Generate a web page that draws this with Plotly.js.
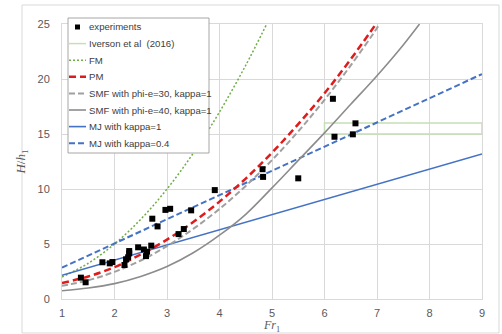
<!DOCTYPE html>
<html><head><meta charset="utf-8">
<script src="https://cdn.plot.ly/plotly-3.0.1.min.js"></script>
<style>html,body{margin:0;padding:0;background:#fff;}#chart{width:502px;height:334px;}</style>
</head><body><div id="chart"></div>
<script>
// ---- data ----
const expFr = [1.36,1.45,1.77,1.91,1.96,2.19,2.22,2.26,2.28,2.28,2.45,2.56,2.60,2.62,2.70,2.72,2.82,2.97,3.06,3.22,3.32,3.46,3.91,4.82,4.83,5.50,6.16,6.19,6.54,6.59];
const expH  = [1.94,1.52,3.34,3.24,3.36,3.09,3.60,3.79,4.15,4.36,4.70,4.50,3.90,4.30,4.85,7.30,6.60,8.10,8.20,5.90,6.36,8.06,9.90,11.80,11.10,10.97,18.20,14.75,14.97,15.97];

const iversonFr = [6, 9];
const iversonH  = [15, 16];

const fmFr = [1,1.5,2,2.5,3,3.5,4,4.5,4.9];
const fmH  = [2,3.25,5,7.25,10,13.25,17,21.25,25];

const pmFr = [1,1.5,2,2.5,3,3.5,4,4.5,5,5.5,6,6.5,6.98];
const pmH  = [1.45,2.05,2.9,4.05,5.4,7.0,8.85,10.95,13.3,15.9,18.7,21.8,25];

const smf30Fr = [1,1.5,2,2.5,3,3.5,4,4.5,5,5.5,6,6.5,7,7.04];
const smf30H  = [1.2,1.7,2.47,3.5,4.81,6.37,8.19,10.28,12.63,15.24,18.11,21.24,24.64,25];

const smf40Fr = [1,1.5,2,2.5,3,3.5,4,4.5,5,5.5,6,6.5,7,7.5,7.81];
const smf40H  = [0.75,1.0,1.4,2.05,2.95,4.2,5.8,7.7,10.1,12.6,15.1,17.7,20.3,23.1,25];

const mj1Fr = [1,2,3,4,5,6,7,8,9];
const mj1H  = [2.15,3.53,4.91,6.29,7.67,9.05,10.43,11.81,13.19];

const mj04Fr = [1,2,3,4,5,6,7,8,9];
const mj04H  = [2.85,5.05,7.25,9.45,11.65,13.85,16.05,18.25,20.45];

const seriesNames = ['experiments','Iverson et al  (2016)','FM','PM','SMF with phi-e=30, kappa=1','SMF with phi-e=40, kappa=1','MJ with kappa=1','MJ with kappa=0.4'];

const xTicks = [1,2,3,4,5,6,7,8,9];
const yTicks = [0,5,10,15,20,25];

// ---- styles ----
const styles = [
  {kind:'marker', color:'#000000'},
  {kind:'line', color:'#c5e0b4', width:1.5, dash:'solid'},
  {kind:'line', color:'#70ad47', width:1.5, dash:'2px,2px'},
  {kind:'line', color:'#e01b1b', width:2.5, dash:'7px,4px'},
  {kind:'line', color:'#a0a0a0', width:2, dash:'6px,3px'},
  {kind:'line', color:'#8c8c8c', width:1.6, dash:'solid'},
  {kind:'line', color:'#4472c4', width:1.6, dash:'solid'},
  {kind:'line', color:'#4472c4', width:2, dash:'6px,3px'}
];

const ivX = [iversonFr[0], iversonFr[1], iversonFr[1], iversonFr[0], iversonFr[0]];
const ivY = [iversonH[0], iversonH[0], iversonH[1], iversonH[1], iversonH[0]];

function lineTrace(x, y, i, shape){
  return {x:x, y:y, mode:'lines', name:seriesNames[i], showlegend:false, hoverinfo:'skip',
    line:{color:styles[i].color, width:styles[i].width, dash:styles[i].dash, shape:shape||'spline'}};
}

const traces = [
  lineTrace(ivX, ivY, 1, 'linear'),
  lineTrace(fmFr, fmH, 2),
  lineTrace(mj1Fr, mj1H, 6, 'linear'),
  lineTrace(mj04Fr, mj04H, 7, 'linear'),
  lineTrace(smf40Fr, smf40H, 5),
  lineTrace(smf30Fr, smf30H, 4),
  lineTrace(pmFr, pmH, 3),
  {x:expFr, y:expH, mode:'markers', name:seriesNames[0], showlegend:false,
   marker:{symbol:'square', size:6, color:'#000000'}}
];

// plot-area geometry (pixels) for placing the legend / frame in paper coordinates
const W = 502, H = 334, mL = 62, mR = 20, mT = 24, mB = 35;
const pw = W - mL - mR, ph = H - mT - mB;
const px = v => (v - mL) / pw;
const py = v => (H - mB - v) / ph;

const shapes = [];
const annotations = [];
// outer chart frame
shapes.push({type:'rect', xref:'paper', yref:'paper', x0:px(22), x1:px(499), y0:py(333), y1:py(5),
  line:{color:'#d9d9d9', width:1}, fillcolor:'rgba(0,0,0,0)', layer:'below'});
// legend box
const lgL = 68, lgR = 209, lgT = 18, lgB = 153;
shapes.push({type:'rect', xref:'paper', yref:'paper', x0:px(lgL), x1:px(lgR), y0:py(lgB), y1:py(lgT),
  line:{color:'#a6a6a6', width:1}, fillcolor:'#ffffff', layer:'above'});
const row0 = 27, rowStep = 16.6;
seriesNames.forEach((nm, i) => {
  const yy = row0 + i*rowStep;
  const st = styles[i];
  if (st.kind === 'marker') {
    shapes.push({type:'rect', xref:'paper', yref:'paper', x0:px(75), x1:px(80), y0:py(yy+2.5), y1:py(yy-2.5),
      line:{width:0}, fillcolor:st.color, layer:'above'});
  } else {
    shapes.push({type:'line', xref:'paper', yref:'paper', x0:px(69), x1:px(86), y0:py(yy), y1:py(yy),
      line:{color:st.color, width:st.width, dash:st.dash}, layer:'above'});
  }
  annotations.push({xref:'paper', yref:'paper', x:px(86.5), y:py(yy), xanchor:'left', yanchor:'middle',
    text:nm, showarrow:false, font:{family:'Liberation Sans, Arial, sans-serif', size:9.6, color:'#404040'}});
});

const layout = {
  width:W, height:H,
  margin:{l:mL, r:mR, t:mT, b:mB, pad:0},
  paper_bgcolor:'#ffffff', plot_bgcolor:'#ffffff',
  showlegend:false,
  font:{family:'Liberation Sans, Arial, sans-serif', size:11, color:'#595959'},
  xaxis:{range:[1,9], tickvals:xTicks, ticktext:xTicks.map(String), showgrid:true, gridcolor:'#d9d9d9', gridwidth:1,
    zeroline:false, showline:true, mirror:true, linecolor:'#d9d9d9', linewidth:1, ticks:'', ticklabelstandoff:4,
    tickfont:{size:11, color:'#595959'},
    title:{text:'<i>Fr</i><sub>1</sub>', font:{family:'Liberation Serif, Times New Roman, serif', size:12, color:'#595959'}, standoff:7}},
  yaxis:{range:[0,25], tickvals:yTicks, ticktext:yTicks.map(String), showgrid:true, gridcolor:'#d9d9d9', gridwidth:1,
    zeroline:false, showline:true, mirror:true, linecolor:'#d9d9d9', linewidth:1, ticks:'', ticklabelstandoff:9,
    tickfont:{size:11, color:'#595959'},
    title:{text:'<i>H</i>/<i>h</i><sub>1</sub>', font:{family:'Liberation Serif, Times New Roman, serif', size:13, color:'#595959'}, standoff:8}},
  shapes:shapes,
  annotations:annotations
};

Plotly.newPlot('chart', traces, layout, {displayModeBar:false, staticPlot:true});
</script>
</body></html>
